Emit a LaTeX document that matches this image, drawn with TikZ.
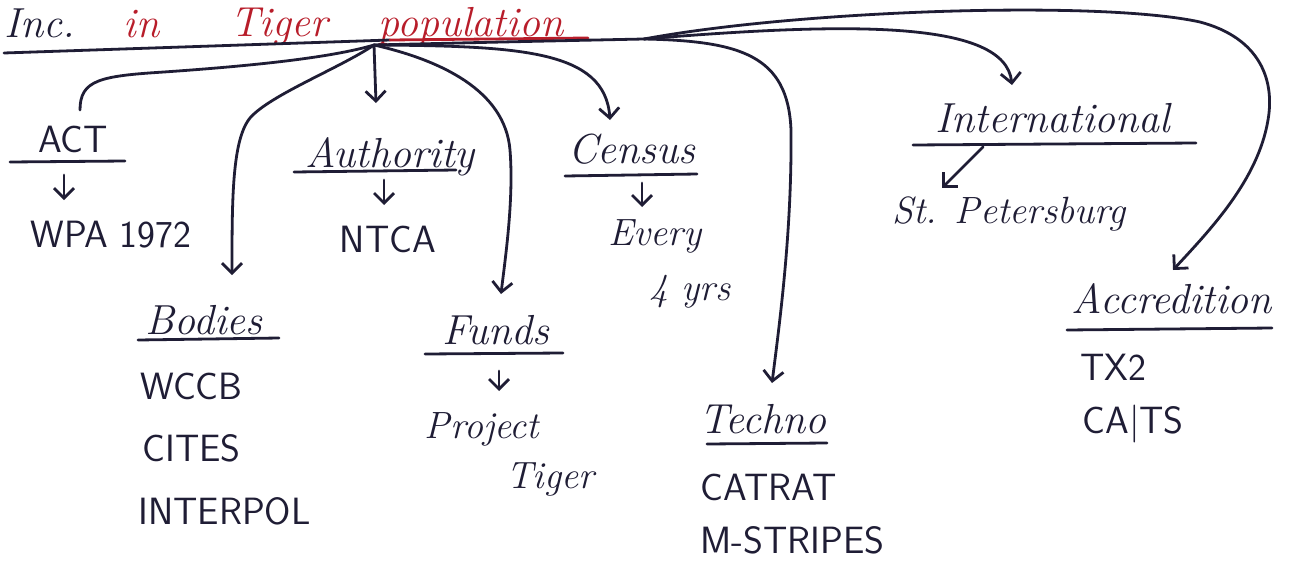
\documentclass[tikz,border=0pt]{standalone}
\usepackage{fontspec}
\usetikzlibrary{arrows.meta,calc}
\definecolor{ink}{HTML}{1F1D35}
\definecolor{titlered}{HTML}{B81D2A}
\tikzset{
  hand/.style={line width=1.4pt, draw=ink, line cap=round, line join=round},
  conn/.style={hand, -{Straight Barb[length=5pt,width=10pt]}},
  link/.style={hand},
  rule/.style={hand},
  head/.style={inner sep=0pt, anchor=base, text=ink, font=\fontsize{21}{24}\selectfont\itshape},
  script/.style={inner sep=0pt, anchor=base, text=ink, font=\fontsize{19}{22}\selectfont\itshape},
  caps/.style={inner sep=0pt, anchor=base, text=ink, font=\fontsize{19}{22}\selectfont\sffamily},
  titleword/.style={inner sep=0pt, anchor=base west, font=\fontsize{21}{25}\selectfont\itshape},
}
\begin{document}
\begin{tikzpicture}[x=0.5pt,y=-0.5pt]
\useasboundingbox (0,0) rectangle (1290,562);
\fill[white] (0,0) rectangle (1290,562);
\clip (0,0) rectangle (1290,562);

% title with its sloping underline
\node[titleword,text=ink] (t1) at (4,38) {Inc.};
\node[titleword,text=titlered] (t2) at (123,37) {in};
\node[titleword,text=titlered] (t3) at (230,36) {Tiger};
\node[titleword,text=titlered] (t4) at (378,36) {population};
\draw[rule] (4,53) -- (390,40);
\draw[rule,draw=titlered] (390,40) -- (588,38);

\coordinate (hub) at (374,45);
\coordinate (split) at (644,39);

% headings and their entries
\node[caps] (act) at (73,152) {ACT};
\node[caps] (wpa) at (111,247) {WPA 1972};
\node[head] (auth) at (390,167) {Authority};
\node[caps] (ntca) at (388,252) {NTCA};
\node[head] (census) at (632,163) {Census};
\node[script] (every) at (655,245) {Every};
\node[script] (yrs) at (690,300) {4 yrs};
\node[head] (intl) at (1053,132) {International};
\node[script] (stp) at (1009,223) {St. Petersburg};
\node[head] (bodies) at (204,334) {Bodies};
\node[caps,anchor=base west] (wccb) at (140,399) {WCCB};
\node[caps,anchor=base west] (cites) at (142,461) {CITES};
\node[caps,anchor=base west] (interpol) at (138,524) {INTERPOL};
\node[head] (funds) at (496,344) {Funds};
\node[script] (project) at (482,438) {Project};
\node[script] (tiger) at (550,488) {Tiger};
\node[head] (techno) at (763,433) {Techno};
\node[caps,anchor=base west] (catrat) at (700,500) {CATRAT};
\node[caps,anchor=base west] (mstripes) at (700,553) {M-STRIPES};
\node[head] (accr) at (1172,313) {Accredition};
\node[caps,anchor=base west] (tx) at (1080,380) {TX2};
\node[caps,anchor=base west] (cats) at (1082,433) {CA|TS};

% underlines
\draw[rule] (10,162) -- (125,161);
\draw[rule] (294,172) -- (456,170);
\draw[rule] (565,176) -- (697,174);
\draw[rule] (913,145) -- (1196,143);
\draw[rule] (138,340) -- (279,338);
\draw[rule] (425,354) -- (563,353);
\draw[rule] (707,444) -- (827,443);
\draw[rule] (1067,330) -- (1272,328);

% branches from the hub
\draw[link] (hub) .. controls (330,58) and (250,66) .. (164,72)
  .. controls (100,76) and (80,80) .. ($(act.base)+(7,-42)$);
\draw[conn] (hub) .. controls (340,68) and (270,95) .. (250,118)
  .. controls (232,140) and (232,200) .. ($(bodies.base)+(28,-59)$);
\draw[conn] (hub) -- ($(auth.base)+(-14,-64)$);
\draw[conn] (hub) .. controls (440,60) and (505,90) .. (510,150)
  .. controls (514,200) and (505,260) .. ($(funds.base)+(5,-50)$);
\draw[conn] (hub) .. controls (520,46) and (605,50) .. ($(census.base)+(-22,-43)$);
\draw[link] (hub) .. controls (500,42) .. (split);
\draw[conn] (split) .. controls (740,41) and (788,55) .. (791,130)
  .. controls (792,230) and (780,320) .. ($(techno.base)+(9,-50)$);
\draw[conn] (split) .. controls (850,22) and (1005,20) .. ($(intl.base)+(-41,-47)$);
\draw[conn] (split) .. controls (800,10) and (1100,0) .. (1200,22)
  .. controls (1260,38) and (1275,80) .. (1268,120)
  .. controls (1258,180) and (1210,230) .. ($(accr.base)+(1,-43)$);

% heading to entry arrows
\draw[conn] ($(act.base)+(-9,23)$) -- ($(wpa.base)+(-47,-47)$);
\draw[conn] ($(auth.base)+(-6,13)$) -- ($(ntca.base)+(-4,-47)$);
\draw[conn] ($(census.base)+(10,20)$) -- ($(every.base)+(-13,-38)$);
\draw[conn] ($(intl.base)+(-70,15)$) -- ($(stp.base)+(-67,-35)$);
\draw[conn] ($(funds.base)+(3,27)$) -- ($(project.base)+(17,-47)$);
\end{tikzpicture}
\end{document}
